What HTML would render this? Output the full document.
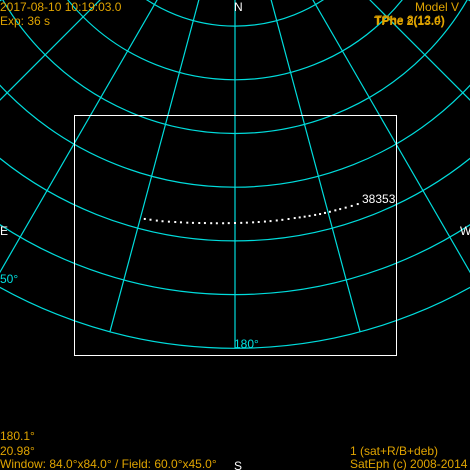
<!DOCTYPE html>
<html><head><meta charset="utf-8"><style>
html,body{margin:0;padding:0;background:#000;}
svg{display:block;font-family:"Liberation Sans",sans-serif;}
.y{fill:#e0a400;font-size:12px;}
.w{fill:#fff;font-size:12px;}
.c{fill:#00e0e0;font-size:12px;}
</style></head><body>
<svg id="chart" width="470" height="470" viewBox="0 0 470 470">
<rect width="470" height="470" fill="#000"/>
<g id="grid"></g>
<rect x="74.5" y="115.5" width="322" height="240" fill="none" stroke="#fff" stroke-width="1"/>
<g id="track"></g>
<text class="w" x="362" y="203">38353</text>
<text class="w" x="234" y="11">N</text>
<text class="w" x="234" y="470">S</text>
<text class="w" x="0" y="235">E</text>
<text class="w" x="460" y="235">W</text>
<text class="c" x="0" y="283">50°</text>
<text class="c" x="234" y="348">180°</text>
<text class="y" x="0" y="11">2017-08-10 10:19:03.0</text>
<text class="y" x="0" y="25">Exp: 36 s</text>
<text class="y" x="415" y="11">Model V</text>
<text class="y" x="374" y="25" font-weight="bold">TPhe 2(13.0)</text>
<text class="y" x="375" y="24">TPhe 8(12.4)</text>
<text class="y" x="0" y="440">180.1°</text>
<text class="y" x="0" y="455">20.98°</text>
<text class="y" x="0" y="468">Window: 84.0°x84.0°  / Field: 60.0°x45.0°</text>
<text class="y" x="350" y="455">1 (sat+R/B+deb)</text>
<text class="y" x="350" y="468">SatEph (c) 2008-2014</text>
</svg>
<script>
const altCircles = [0,10,20,30,40,50,60,70,80];
const azLines = [60,75,90,105,120,135,150,165,180,195,210,225,240,255,270,285,300];
const trackAz = [165.7,166.6,167.6,168.5,169.5,170.5,171.4,172.4,173.3,174.3,175.2,176.2,177.1,178.1,179.0,180.0,181.0,181.9,182.9,183.8,184.8,185.7,186.7,187.6,188.6,189.6,190.4,191.2,192.0,192.9,193.7,194.5,195.3,196.2,197.0,197.9,198.9,199.9];
const trackAlt = [21.98,22.1,22.2,22.3,22.45,22.59,22.7,22.8,22.9,23.0,23.09,23.15,23.2,23.25,23.3,23.33,23.35,23.36,23.37,23.37,23.37,23.36,23.35,23.34,23.33,23.32,23.28,23.24,23.2,23.15,23.1,23.08,23.05,23.03,23.0,22.95,22.9,22.85];
const ZX=235, ZY=-135, PX=5.37;
const NS='http://www.w3.org/2000/svg';
function proj(az,alt){const r=(90-alt)*PX;const a=(az-180)*Math.PI/180;return [ZX+r*Math.sin(a), ZY+r*Math.cos(a)];}
const grid=document.getElementById('grid');
altCircles.forEach(a=>{
  const c=document.createElementNS(NS,'circle');
  c.setAttribute('cx',ZX);c.setAttribute('cy',ZY);c.setAttribute('r',(90-a)*PX);
  c.setAttribute('fill','none');c.setAttribute('stroke','#00dcdc');c.setAttribute('stroke-width','1.2');
  
  
  grid.appendChild(c);
});
azLines.forEach(az=>{
  const p0=proj(az,80), p1=proj(az,0);
  const l=document.createElementNS(NS,'line');
  l.setAttribute('x1',p0[0]);l.setAttribute('y1',p0[1]);l.setAttribute('x2',p1[0]);l.setAttribute('y2',p1[1]);
  l.setAttribute('stroke','#00dcdc');l.setAttribute('stroke-width','1.2');
  
  
  grid.appendChild(l);
});
const track=document.getElementById('track');
trackAz.forEach((az,i)=>{
  const p=proj(az,trackAlt[i]);
  const d=document.createElementNS(NS,'rect');
  d.setAttribute('x',p[0]-1);d.setAttribute('y',p[1]-1);d.setAttribute('width',2);d.setAttribute('height',2);
  d.setAttribute('fill','#fff');
  
  
  track.appendChild(d);
});
</script>
</body></html>
